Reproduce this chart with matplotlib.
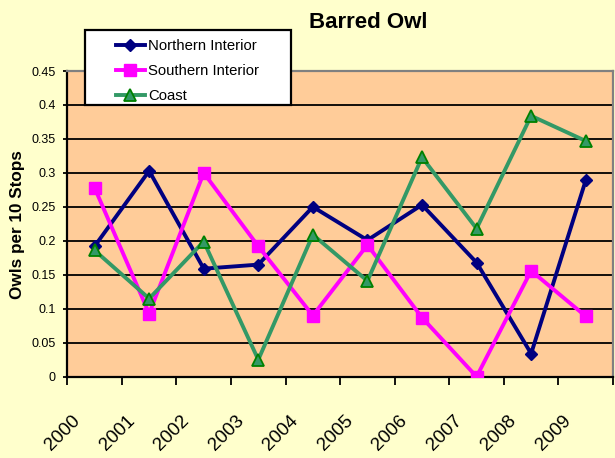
import matplotlib
matplotlib.use("Agg")
import matplotlib.pyplot as plt
import matplotlib.transforms as mtransforms
from matplotlib.patches import Rectangle

plt.rcParams['font.family'] = ['Liberation Sans', 'DejaVu Sans']

years = ['2000', '2001', '2002', '2003', '2004', '2005', '2006', '2007', '2008', '2009']
northern = [0.192, 0.303, 0.159, 0.165, 0.250, 0.201, 0.253, 0.168, 0.034, 0.289]
southern = [0.278, 0.093, 0.300, 0.192, 0.090, 0.194, 0.087, 0.000, 0.156, 0.089]
coast = [0.186, 0.115, 0.199, 0.025, 0.209, 0.141, 0.323, 0.218, 0.384, 0.347]
yticks = [0, 0.05, 0.1, 0.15, 0.2, 0.25, 0.3, 0.35, 0.4, 0.45]
ytick_labels = ['0', '0.05', '0.1', '0.15', '0.2', '0.25', '0.3', '0.35', '0.4', '0.45']

W, H = 615, 458
fig = plt.figure(figsize=(W / 100, H / 100), dpi=100)
fig.patch.set_facecolor('#FFFFCC')

L, R, T, B = 67.3, 613, 71, 376.7
ax = fig.add_axes([L / W, 1 - B / H, (R - L) / W, (B - T) / H])
ax.set_facecolor('#FFCC99')

x = list(range(len(years)))
ax.set_xlim(-0.5, len(years) - 0.5)
ax.set_ylim(0, 0.45)

for v in yticks[1:-1]:
    ax.axhline(v, color='black', lw=1.3, zorder=1)

l1, = ax.plot(x, northern, color='#000080', lw=2.8, marker='D', ms=6.3,
              mfc='#000080', mec='#000080', label='Northern Interior', zorder=3)
l2, = ax.plot(x, southern, color='#FF00FF', lw=2.8, marker='s', ms=8,
              mfc='#FF00FF', mec='#FF00FF', label='Southern Interior', zorder=3)
l3, = ax.plot(x, coast, color='#339966', lw=2.8, marker='^', ms=8.5,
              mfc='#339966', mec='#008000', mew=1.3, label='Coast', zorder=3)

ax.set_yticks(yticks)
ax.set_yticklabels(ytick_labels, fontsize=9)
ax.tick_params(axis='y', direction='out', length=3.2, width=1.3, pad=5)

ax.set_xticks([i - 0.5 for i in range(len(years) + 1)])
ax.set_xticklabels([])
ax.tick_params(axis='x', direction='out', length=5.5, width=1.3)

off = mtransforms.offset_copy(ax.get_xaxis_transform(), fig=fig, x=-32, y=-56, units='dots')
for i, lab in enumerate(years):
    ax.text(i, 0, lab, transform=off, rotation=45, ha='center', va='center',
            fontsize=13.5, clip_on=False)

for s in ['left', 'bottom']:
    ax.spines[s].set_color('black')
    ax.spines[s].set_linewidth(1.6)
for s in ['top', 'right']:
    ax.spines[s].set_color('#808080')
    ax.spines[s].set_linewidth(1.6)

fig.text(368.7 / W, 1 - 28 / H, 'Barred Owl', ha='center', va='baseline',
         fontsize=16, fontweight='bold')
fig.text(18 / W, 1 - 225 / H, 'Owls per 10 Stops', ha='center', va='center',
         rotation=90, fontsize=12.3, fontweight='bold')

rect = Rectangle((85 / W, 1 - 105 / H), (291 - 85) / W, (105 - 30) / H,
                 transform=fig.transFigure, facecolor='white', edgecolor='black',
                 lw=1.6, zorder=5)
fig.patches.append(rect)
leg = fig.legend(handles=[l1, l2, l3], loc='upper left',
                 bbox_to_anchor=(116 / W, 1 - 39.5 / H), frameon=False,
                 fontsize=10.7, handlelength=1.95, handletextpad=0.2,
                 labelspacing=0.74, borderpad=0, borderaxespad=0)
leg.set_zorder(6)

fig.savefig('out.png', dpi=100, facecolor=fig.get_facecolor())
